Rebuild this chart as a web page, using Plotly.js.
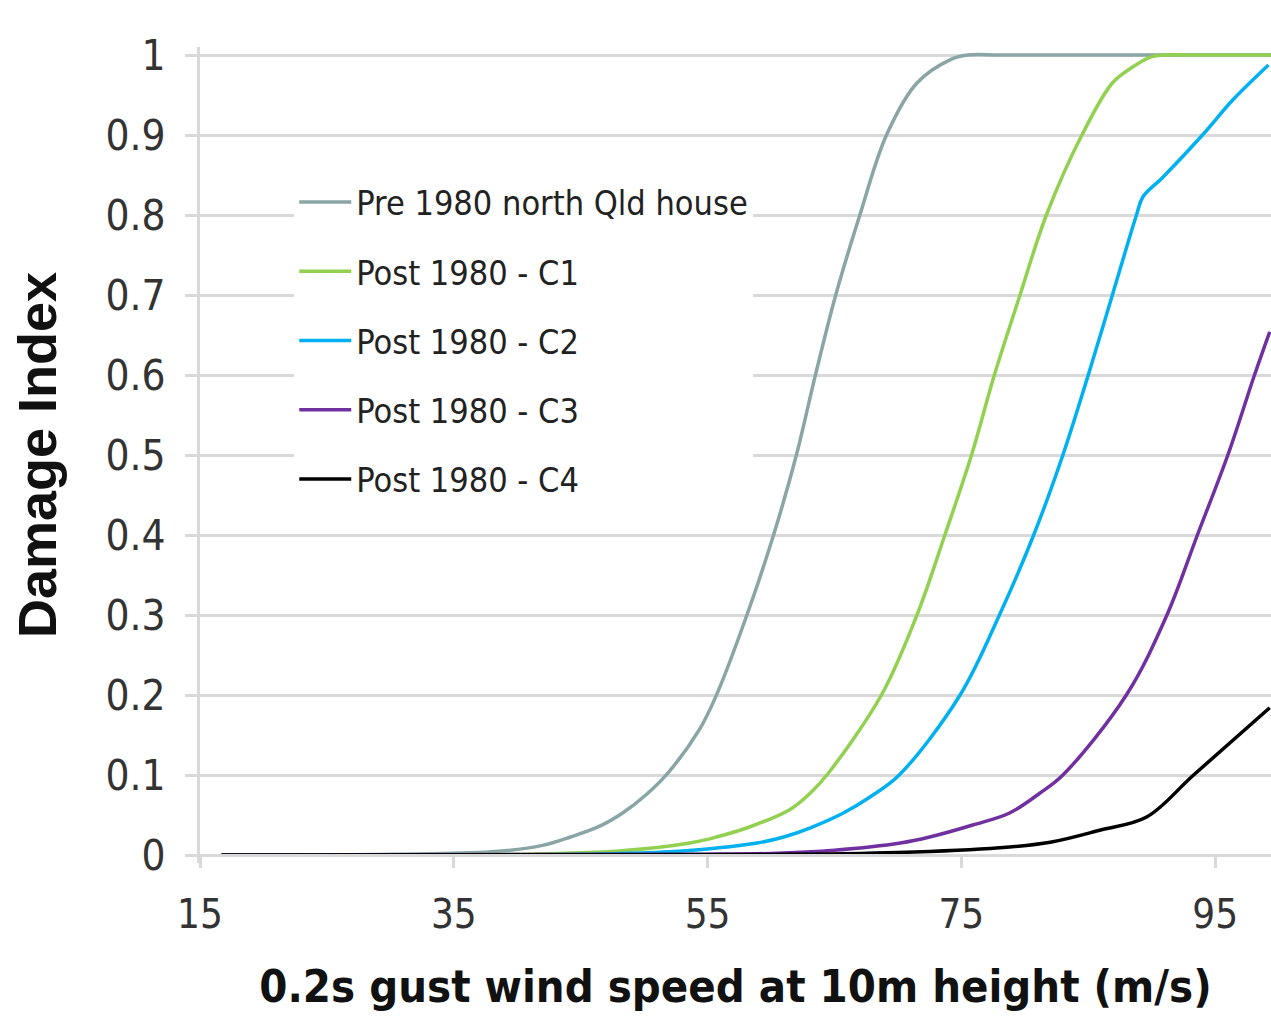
<!DOCTYPE html>
<html>
<head>
<meta charset="utf-8">
<script src="https://cdn.plot.ly/plotly-3.0.1.min.js"></script>
<style>
html,body{margin:0;padding:0;background:#ffffff;}
#chart{width:1271px;height:1017px;}
</style>
</head>
<body>
<div id="chart"></div>
<script>
// ---- data ----
const seriesNames = ["Pre 1980 north Qld house", "Post 1980 - C1", "Post 1980 - C2", "Post 1980 - C3", "Post 1980 - C4"];
const seriesColors = ["#8aa5a5", "#92d050", "#00b0f0", "#7030a0", "#000000"];

const preX = [16.7, 30, 38, 42, 44.2, 46.5, 48.3, 50.2, 51.9, 54.4, 55.7, 58.1, 60.2, 62.0, 63.5, 65.1, 67.0, 69.1, 71.5, 74.1, 75.5, 78, 82, 99.4];
const preY = [0, 0.001, 0.004, 0.012, 0.0225, 0.036, 0.0525, 0.076, 0.103, 0.158, 0.2, 0.3, 0.4, 0.5, 0.6, 0.7, 0.8, 0.9, 0.965, 0.994, 1, 1, 1, 1];

const c1X = [16.7, 40, 48, 53.6, 55.7, 58.3, 61.5, 63.1, 64.4, 68.7, 71.5, 73.7, 75.8, 77.6, 79.5, 81.7, 84.5, 86.9, 88.5, 90, 91, 93, 96, 99.4];
const c1Y = [0, 0.001, 0.005, 0.015, 0.0225, 0.035, 0.057, 0.0775, 0.1, 0.2, 0.3, 0.4, 0.5, 0.6, 0.694, 0.8, 0.9, 0.965, 0.985, 0.998, 1, 1, 1, 1];

const c2X = [16.7, 45, 52, 58.9, 61, 63.1, 65.7, 67.8, 70.1, 74.9, 78, 80.7, 83.0, 85.0, 86.9, 88.8, 89.3, 90.9, 94, 96.4, 99.2];
const c2Y = [0, 0.001, 0.004, 0.015, 0.0225, 0.034, 0.0525, 0.0725, 0.1, 0.2, 0.3, 0.4, 0.5, 0.6, 0.7, 0.8, 0.8225, 0.8475, 0.9, 0.944, 0.9875];

const c3X = [16.7, 55, 60, 65, 70.2, 72.5, 75.9, 78.8, 81.2, 83, 88, 91.2, 93.6, 96, 98.1, 99.3];
const c3Y = [0, 0.001, 0.002, 0.006, 0.015, 0.0225, 0.0375, 0.0525, 0.0775, 0.1, 0.2, 0.3, 0.4, 0.5, 0.6, 0.654];

const c4X = [16.7, 60, 70, 78, 82, 85.9, 89.6, 93.3, 99.3];
const c4Y = [0, 0.0005, 0.003, 0.009, 0.016, 0.031, 0.0475, 0.1, 0.184];

const xTickVals = [15, 35, 55, 75, 95];
const xTickText = ["15", "35", "55", "75", "95"];

const xTitle = "0.2s gust wind speed at 10m height (m/s)";
const yTitle = "Damage Index";

// ---- build ----
const NARROW = "'Liberation Sans Narrow', 'DejaVu Sans Condensed', 'Arial Narrow', sans-serif";
const WIDE = "'Liberation Sans', Arial, sans-serif";

const xs = [preX, c1X, c2X, c3X, c4X];
const ys = [preY, c1Y, c2Y, c3Y, c4Y];

const traces = seriesNames.map((name, i) => ({
  type: "scatter",
  mode: "lines",
  name: name,
  legendgroup: "g" + i,
  x: xs[i],
  y: ys[i],
  line: {color: seriesColors[i], width: 3.5, shape: "spline", smoothing: 1},
  hoverinfo: "x+y+name"
}));

const yLo = -0.01, yHi = 1.01;
const zeroPos = (0 - yLo) / (yHi - yLo);

const layout = {
  width: 1271,
  height: 1017,
  margin: {l: 200, r: 0, t: 47, b: 154, pad: 0},
  paper_bgcolor: "#ffffff",
  plot_bgcolor: "#ffffff",
  showlegend: true,
  legend: {
    x: 0.088, xanchor: "left",
    y: 0.845, yanchor: "top",
    bgcolor: "#ffffff",
    borderwidth: 0,
    traceorder: "grouped",
    tracegroupgap: 22,
    itemwidth: 52,
    font: {family: NARROW, size: 34, color: "#222222"}
  },
  xaxis: {
    range: [15, 99.4],
    tickvals: xTickVals,
    ticktext: xTickText,
    showgrid: false,
    zeroline: false,
    showline: true,
    linecolor: "#d9d9d9",
    linewidth: 3,
    anchor: "free",
    position: zeroPos,
    ticks: "outside",
    ticklen: 11,
    tickwidth: 3,
    tickcolor: "#d9d9d9",
    ticklabelstandoff: 12,
    tickfont: {family: NARROW, size: 40, color: "#333333"},
    title: {text: xTitle, font: {family: NARROW, size: 45, weight: "bold", color: "#111111"}, standoff: 34},
    fixedrange: true
  },
  yaxis: {
    range: [yLo, yHi],
    tick0: 0,
    dtick: 0.1,
    showgrid: true,
    gridcolor: "#d9d9d9",
    gridwidth: 3,
    zeroline: false,
    showline: true,
    linecolor: "#d9d9d9",
    linewidth: 3,
    ticks: "outside",
    ticklen: 12,
    tickwidth: 3,
    tickcolor: "#d9d9d9",
    ticklabelstandoff: 11,
    tickfont: {family: NARROW, size: 42, color: "#333333"},
    title: {text: yTitle, font: {family: WIDE, size: 54, weight: "bold", color: "#111111"}, standoff: 32},
    fixedrange: true
  }
};

Plotly.newPlot("chart", traces, layout, {displayModeBar: false, staticPlot: true});
</script>
</body>
</html>
